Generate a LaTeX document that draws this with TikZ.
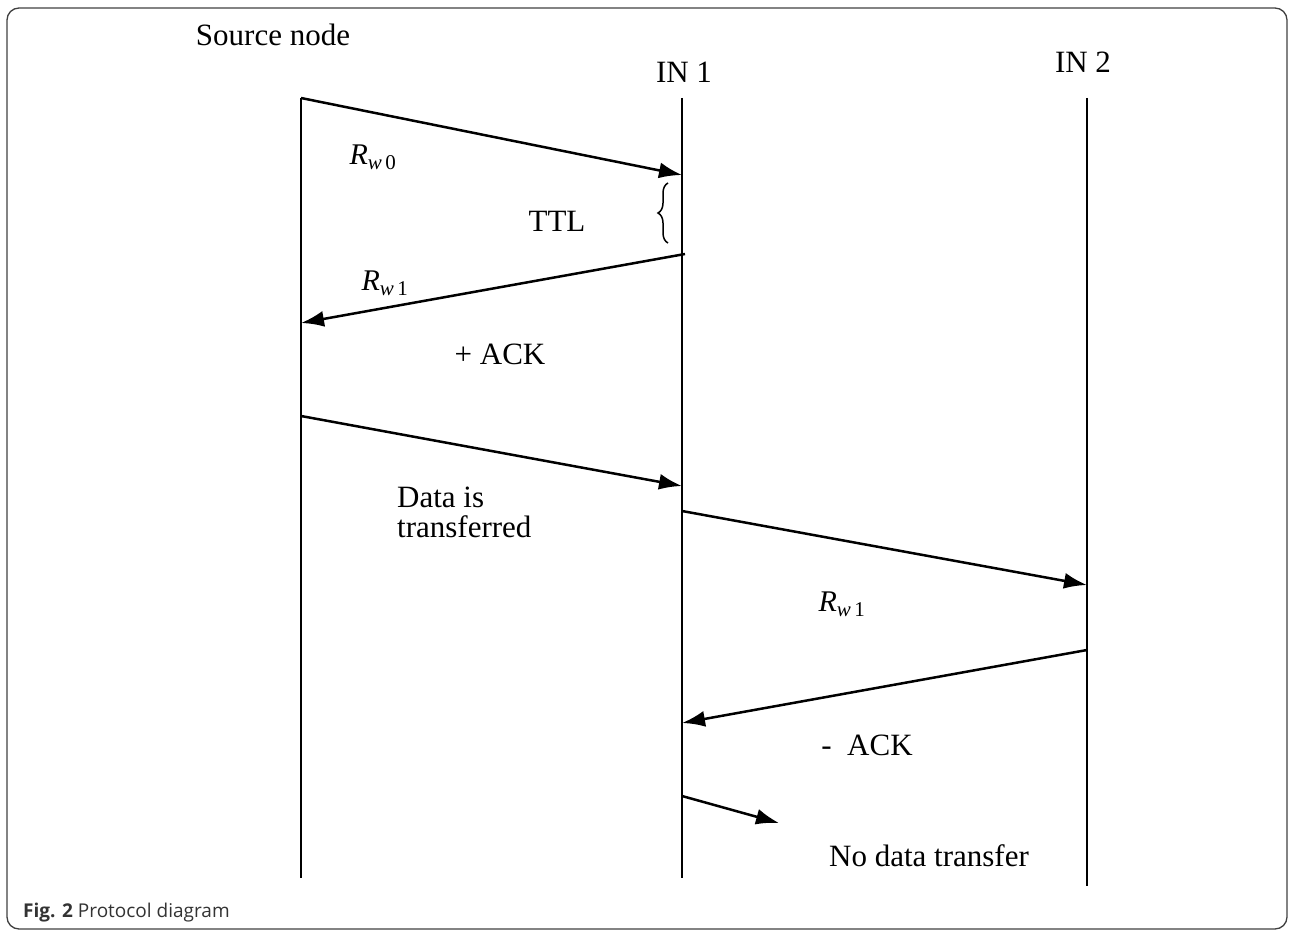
\documentclass[tikz,border=0pt]{standalone}
\usepackage{fontspec}
\setmainfont{Liberation Serif}
\newfontfamily\capfont{Open Sans}
\usetikzlibrary{arrows.meta,decorations.pathreplacing}
\newcommand{\Rsub}[1]{\textit{R}\textsubscript{\textit{w}\,#1}}
\begin{document}
\begin{tikzpicture}[x=1pt,y=-1pt,
  lbl/.style={font=\fontsize{31}{37}\selectfont, inner sep=0pt},
  mlbl/.style={font=\fontsize{30}{36}\selectfont, inner sep=0pt},
  life/.style={line width=2pt},
  msg/.style={line width=2.5pt,-{Latex[length=23pt,width=16pt]}},
]
\useasboundingbox (0,0) rectangle (1293,931);
\draw[line width=1.3pt, rounded corners=12pt, black!75] (7,8) rectangle (1287,929);

% lifelines
\coordinate (s0) at (301,98);  \coordinate (s1) at (301,878);
\coordinate (a0) at (682,98);  \coordinate (a1) at (682,878);
\coordinate (b0) at (1087,98); \coordinate (b1) at (1087,886);
\draw[life] (s0) -- (s1);
\draw[life] (a0) -- (a1);
\draw[life] (b0) -- (b1);

% headers
\node[lbl] (hsrc) at (273,35) {Source node};
\node[lbl] (hin1) at (684,72) {IN 1};
\node[lbl] (hin2) at (1083,62) {IN 2};

% messages
\coordinate (m1s) at (301,98);   \coordinate (m1e) at (682,175);
\coordinate (m2s) at (685,254);  \coordinate (m2e) at (301,323);
\coordinate (m3s) at (301,416);  \coordinate (m3e) at (682,486);
\coordinate (m4s) at (682,511);  \coordinate (m4e) at (1087,585);
\coordinate (m5s) at (1087,650); \coordinate (m5e) at (682,723);
\coordinate (m6s) at (682,796);  \coordinate (m6e) at (779,823);
\draw[msg] (m1s) -- (m1e);
\draw[msg] (m2s) -- (m2e);
\draw[msg] (m3s) -- (m3e);
\draw[msg] (m4s) -- (m4e);
\draw[msg] (m5s) -- (m5e);
\draw[msg] (m6s) -- (m6e);

% TTL brace
\coordinate (t0) at (668,243); \coordinate (t1) at (668,183);
\draw[line width=1.5pt, decorate, decoration={brace, amplitude=10pt}] (t0) -- (t1);

% labels
\node[mlbl] (lrw0) at (373,157) {\Rsub{0}};
\node[lbl] (lttl) at (557,221) {TTL};
\node[mlbl] (lrw1) at (385,283) {\Rsub{1}};
\node[lbl] (lack) at (500,354) {+ ACK};
\node[lbl, anchor=west, align=left, font=\fontsize{31}{30}\selectfont] (ldata) at (397,512) {Data is\\transferred};
\node[mlbl] (lrw1b) at (842,604) {\Rsub{1}};
\node[lbl] (lnack) at (867,745) {-\ \ ACK};
\node[lbl] (lno) at (929,856) {No data transfer};

% caption
\node[anchor=west, inner sep=0pt, font=\capfont\fontsize{19}{22}\selectfont, text=black!80] (cap) at (23,913) {\textbf{Fig. 2} Protocol diagram};
\end{tikzpicture}
\end{document}
